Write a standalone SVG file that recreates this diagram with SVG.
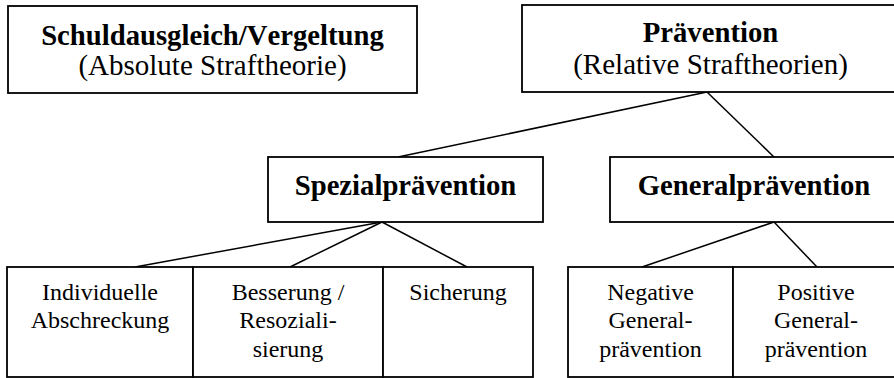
<svg xmlns="http://www.w3.org/2000/svg" width="894" height="378" viewBox="0 0 894 378">
<style>
.box{fill:#fff;stroke:#000;stroke-width:1.8}
.c{fill:none;stroke:#000;stroke-width:1.5}
text{font-family:"Liberation Serif","Times New Roman",serif;fill:#000;text-anchor:middle}
.h{font-size:28.7px;font-weight:bold}
.s{font-size:29px}
.t{font-size:24px}
.nk{font-kerning:none}
</style>
<rect width="894" height="378" fill="#fff"/>
<g id="connectors">
<line class="c" x1="707" y1="92" x2="398" y2="157"/>
<line class="c" x1="707" y1="92" x2="774" y2="157"/>
<line class="c" x1="382" y1="222" x2="135" y2="267"/>
<line class="c" x1="382" y1="222" x2="290" y2="267"/>
<line class="c" x1="382" y1="222" x2="467" y2="267"/>
<line class="c" x1="774" y1="222" x2="642" y2="267"/>
<line class="c" x1="774" y1="222" x2="817" y2="267"/>
</g>
<g id="schuldausgleich">
<rect class="box" x="8" y="6" width="409" height="87"/>
<text class="h nk" x="212.5" y="45">Schuldausgleich/Vergeltung</text>
<text class="s" x="212.5" y="75">(Absolute Straftheorie)</text>
</g>
<g id="praevention">
<rect class="box" x="522" y="5" width="377" height="87"/>
<text class="h" x="710.5" y="42">Prävention</text>
<text class="s" x="710.5" y="74">(Relative Straftheorien)</text>
</g>
<g id="spezialpraevention">
<rect class="box" x="268" y="157" width="275" height="65"/>
<text class="h" x="405.5" y="195">Spezialprävention</text>
</g>
<g id="generalpraevention">
<rect class="box" x="610" y="157" width="289" height="65"/>
<text class="h" x="754" y="195">Generalprävention</text>
</g>
<g id="individuelle">
<rect class="box" x="7" y="267" width="186" height="110"/>
<text class="t" x="100" y="300">Individuelle</text>
<text class="t" x="100" y="328">Abschreckung</text>
</g>
<g id="besserung">
<rect class="box" x="193" y="267" width="190" height="110"/>
<text class="t" x="288" y="300">Besserung /</text>
<text class="t" x="288" y="328">Resoziali-</text>
<text class="t" x="288" y="357">sierung</text>
</g>
<g id="sicherung">
<rect class="box" x="383" y="267" width="150" height="110"/>
<text class="t" x="458" y="300">Sicherung</text>
</g>
<g id="negative">
<rect class="box" x="568" y="267" width="165" height="110"/>
<text class="t" x="650.5" y="300">Negative</text>
<text class="t" x="650.5" y="328">General-</text>
<text class="t" x="650.5" y="357">prävention</text>
</g>
<g id="positive">
<rect class="box" x="733" y="267" width="166" height="110"/>
<text class="t" x="816" y="300">Positive</text>
<text class="t" x="816" y="328">General-</text>
<text class="t" x="816" y="357">prävention</text>
</g>
</svg>
